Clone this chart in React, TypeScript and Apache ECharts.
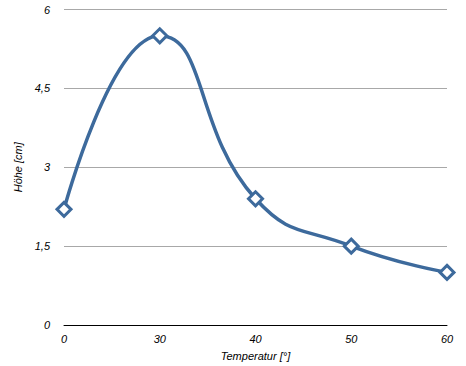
import React, { useEffect, useRef } from "react";
import * as echarts from "echarts";

const categories = ["0", "30", "40", "50", "60"];
const heights = [2.2, 5.5, 2.4, 1.5, 1.0];
const yTicks = [0, 1.5, 3, 4.5, 6];

export default function App() {
  const ref = useRef<HTMLDivElement>(null);
  useEffect(() => {
    if (!ref.current) return;
    const chart = echarts.init(ref.current, undefined, { renderer: "svg" });
    const font = "'Liberation Sans', Arial, sans-serif";
    chart.setOption({
      animation: false,
      backgroundColor: "#ffffff",
      grid: { left: 64, right: 19, top: 9.5, bottom: 41, containLabel: false, outerBoundsMode: "none" },
      xAxis: {
        type: "category",
        data: categories,
        boundaryGap: false,
        name: "Temperatur [°]",
        nameLocation: "middle",
        nameGap: 25,
        nameTextStyle: { fontStyle: "italic", fontSize: 11, color: "#000", fontFamily: font },
        axisLine: { show: true, lineStyle: { color: "#000", width: 1 } },
        axisTick: { show: false },
        axisLabel: { fontStyle: "italic", fontSize: 11, color: "#000", fontFamily: font, margin: 8 },
        splitLine: { show: false },
      },
      yAxis: {
        type: "value",
        min: 0,
        max: 6,
        interval: 1.5,
        name: "Höhe [cm]",
        nameLocation: "middle",
        nameGap: 25,
        nameRotate: 90,
        nameTextStyle: { fontStyle: "italic", fontSize: 11, color: "#000", fontFamily: font },
        axisLine: { show: false },
        axisTick: { show: false },
        axisLabel: {
          fontStyle: "italic",
          fontSize: 11,
          color: "#000",
          fontFamily: font,
          margin: 14,
          formatter: (v: number) => (yTicks.includes(v) ? String(v).replace(".", ",") : ""),
        },
        splitLine: { show: true, lineStyle: { color: "#a8a8a8", width: 1 } },
      },
      series: [
        {
          type: "line",
          data: heights,
          smooth: 0.5,
          symbol: "diamond",
          symbolSize: 14,
          lineStyle: { color: "#3d6a9c", width: 3.5 },
          itemStyle: { color: "#ffffff", borderColor: "#3d6a9c", borderWidth: 3 },
          z: 3,
        },
      ],
    });
    return () => chart.dispose();
  }, []);
  return <div ref={ref} style={{ width: 466, height: 366, position: "absolute", left: 0, top: 0 }} />;
}
